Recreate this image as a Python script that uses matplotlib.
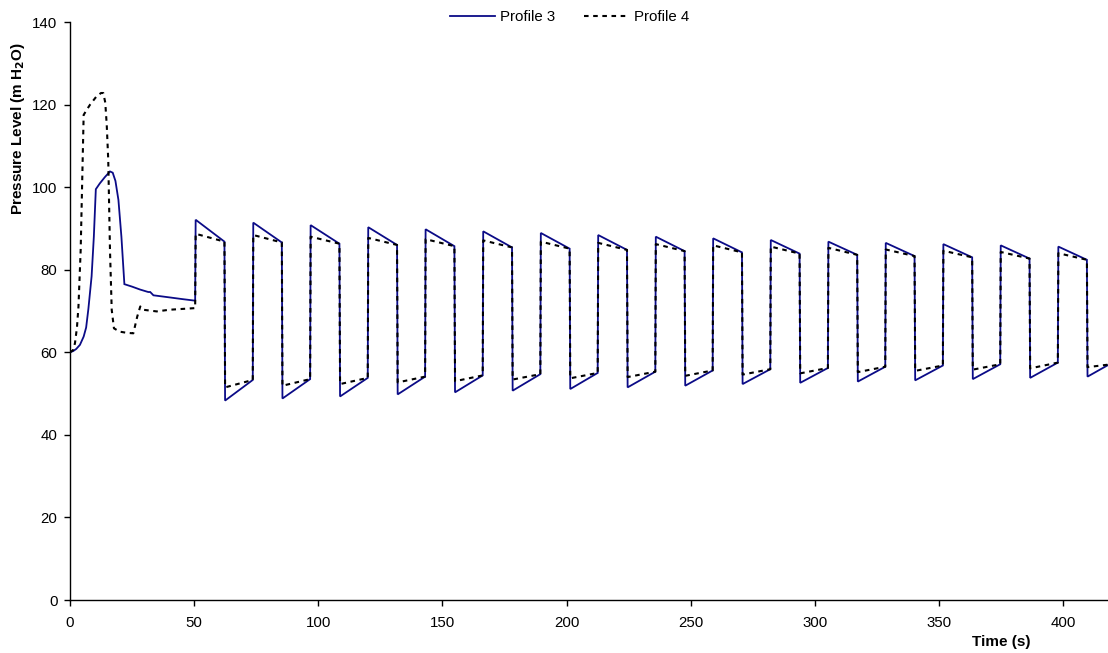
import matplotlib
matplotlib.use("Agg")
import matplotlib.pyplot as plt
from matplotlib.lines import Line2D

plt.rcParams['font.family'] = ['Liberation Sans', 'DejaVu Sans']

# ---- start-up transient (t < 50 s) ----
p3_start_t = [0.0, 1.3, 2.5, 4.0, 5.5, 6.5, 7.4, 8.7, 9.6, 10.4, 12.0, 14.0, 16.1, 17.2, 18.3,
              19.5, 20.7, 21.9, 25.0, 28.2, 31.5, 32.3, 33.6, 40.0, 45.0, 50.4]
p3_start_v = [60.0, 60.3, 60.8, 61.8, 63.8, 66.0, 70.5, 78.4, 88.0, 99.5, 100.9, 102.4, 103.8, 103.5,
              101.5, 96.9, 88.0, 76.5, 75.9, 75.2, 74.6, 74.6, 73.8, 73.3, 72.9, 72.5]

p4_start_t = [0.0, 1.2, 2.0, 2.8, 3.4, 4.3, 5.1, 5.5, 6.5, 8.1, 10.7, 12.5, 13.4, 14.2, 14.8, 15.4,
              16.1, 16.8, 17.7, 20.0, 23.0, 25.5, 27.1, 28.3, 29.5, 34.9, 40.0, 50.4]
p4_start_v = [60.0, 60.5, 62.2, 66.0, 71.0, 84.8, 106.6, 117.5, 118.5, 120.0, 122.0, 122.8, 122.8, 120.5,
              115.0, 106.6, 84.8, 70.3, 65.8, 65.0, 64.7, 64.6, 68.7, 71.1, 70.3, 69.9, 70.3, 70.7]

# ---- cyclic operation: switching times (s) ----
t_up = [50.6, 73.8, 96.9, 120.1, 143.2, 166.4, 189.6, 212.7, 235.9, 259.0, 282.2, 305.4,
        328.5, 351.7, 374.8, 398.0]
t_down = [62.2, 85.3, 108.5, 131.7, 154.8, 178.0, 201.2, 224.3, 247.5, 270.6, 293.8, 317.0,
          340.1, 363.3, 386.4, 409.5]
t_end = 418.0

# Profile 3 levels per cycle
p3_peak = [92.1, 91.4, 90.8, 90.3, 89.8, 89.3, 88.9, 88.4, 88.0, 87.6, 87.2, 86.8, 86.5, 86.2, 85.9, 85.6]
p3_high_end = [86.8, 86.6, 86.3, 86.0, 85.7, 85.4, 85.1, 84.8, 84.5, 84.2, 83.9, 83.6, 83.3, 83.0, 82.7, 82.4]
p3_trough = [48.3, 48.8, 49.3, 49.8, 50.3, 50.7, 51.1, 51.5, 51.9, 52.3, 52.6, 52.9, 53.2, 53.5, 53.8, 54.1]
p3_low_end = [53.3, 53.5, 53.8, 54.1, 54.4, 54.7, 55.0, 55.3, 55.6, 55.9, 56.2, 56.5, 56.8, 57.1, 57.5, 56.9]

# Profile 4 levels per cycle
p4_high_start = [88.7, 88.4, 88.0, 87.7, 87.4, 87.1, 86.8, 86.5, 86.2, 85.9, 85.6, 85.3, 84.9, 84.6, 84.3, 84.0]
p4_high_end = [86.8, 86.6, 86.3, 86.0, 85.7, 85.4, 85.1, 84.8, 84.5, 84.2, 83.9, 83.6, 83.3, 83.0, 82.7, 82.4]
p4_low_start = [51.5, 51.9, 52.3, 52.7, 53.0, 53.4, 53.7, 54.0, 54.3, 54.6, 54.9, 55.2, 55.5, 55.8, 56.1, 56.4]
p4_low_end = [53.3, 53.5, 53.8, 54.1, 54.4, 54.7, 55.0, 55.3, 55.6, 55.9, 56.2, 56.5, 56.8, 57.1, 57.5, 57.0]

x_ticks = [0, 50, 100, 150, 200, 250, 300, 350, 400]
y_ticks = [0, 20, 40, 60, 80, 100, 120, 140]


def build(start_t, start_v, hi_a, hi_b, lo_a, lo_b):
    t, v = list(start_t), list(start_v)
    n = len(t_up)
    for k in range(n):
        t += [t_up[k], t_down[k], t_down[k] + 0.25]
        v += [hi_a[k], hi_b[k], lo_a[k]]
        nxt = t_up[k + 1] - 0.2 if k + 1 < n else t_end
        t.append(nxt)
        v.append(lo_b[k])
    return t, v


t3, v3 = build(p3_start_t, p3_start_v, p3_peak, p3_high_end, p3_trough, p3_low_end)
t4, v4 = build(p4_start_t, p4_start_v, p4_high_start, p4_high_end, p4_low_start, p4_low_end)

fig = plt.figure(figsize=(11.08, 6.53), dpi=100)
ax = fig.add_axes([70 / 1108, 53 / 653, 1038 / 1108, 578 / 653])

blue = '#0b0b87'
dash = (0, (2.2, 2.2))
ax.plot(t3, v3, color=blue, lw=1.3, solid_joinstyle='miter', zorder=2)
ax.plot(t4, v4, color='black', lw=1.5, linestyle=dash, zorder=3)

ax.set_xlim(0, t_end)
ax.set_ylim(0, 140)
ax.set_xticks(x_ticks)
ax.set_yticks(y_ticks)
ax.tick_params(axis='both', direction='out', length=4, width=1, labelsize=10.8, colors='black')
ax.tick_params(axis='x', pad=7.5)
ax.tick_params(axis='y', pad=5)
for s in ['top', 'right']:
    ax.spines[s].set_visible(False)
for s in ['left', 'bottom']:
    ax.spines[s].set_linewidth(1.0)

ax.text(-0.0505, 0.815, 'Pressure Level (m H$_\\mathbf{2}$O)', transform=ax.transAxes,
        rotation=90, ha='center', va='center', fontsize=11, fontweight='bold')
ax.text(0.8976, -0.0727, 'Time (s)', transform=ax.transAxes,
        ha='center', va='center', fontsize=11, fontweight='bold')

handles = [Line2D([], [], color=blue, lw=1.3),
           Line2D([], [], color='black', lw=1.5, linestyle=dash)]
fig.legend(handles, ['Profile 3', 'Profile 4'], loc='center', bbox_to_anchor=(0.514, 0.974),
           ncol=2, frameon=False, fontsize=10.8, handlelength=3.0, handletextpad=0.35,
           columnspacing=1.9, borderpad=0)

fig.savefig('out.png', dpi=100)
